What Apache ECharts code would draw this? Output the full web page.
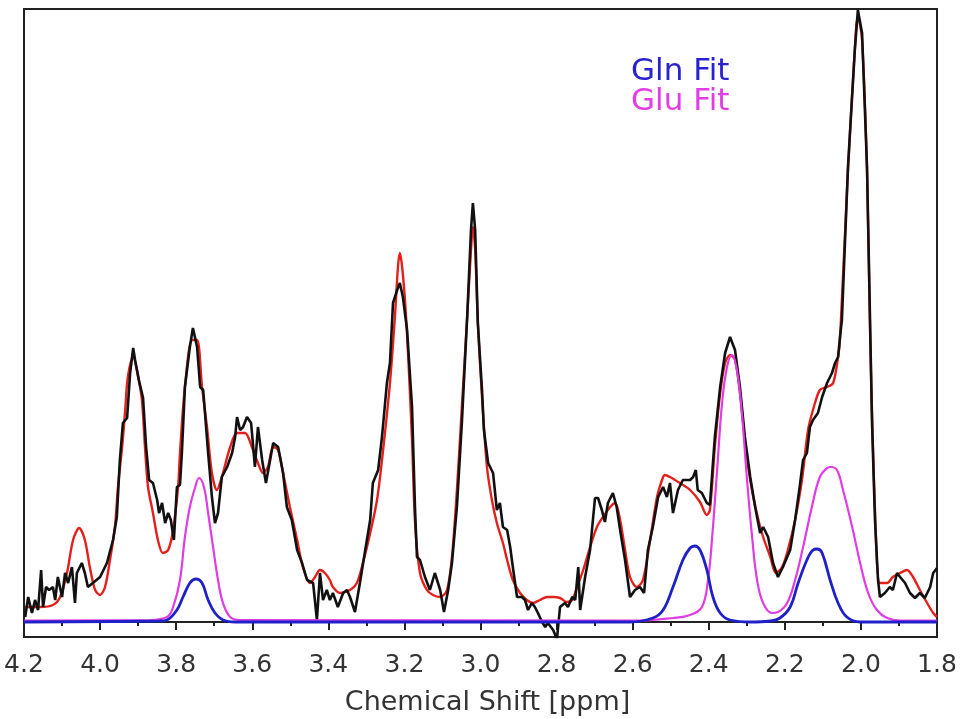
<!DOCTYPE html>
<html>
<head>
<meta charset="utf-8">
<script src="https://cdn.jsdelivr.net/npm/echarts@6/dist/echarts.min.js"></script>
<style>
  html, body { margin: 0; padding: 0; background: #fff; }
  #chart { width: 965px; height: 719px; }
</style>
</head>
<body>
<div id="chart"></div>
<script>
// measured spectrum (black)
const dataPpm = [4.197, 4.189, 4.179, 4.171, 4.163, 4.155, 4.150, 4.142, 4.134, 4.124, 4.118, 4.111, 4.100, 4.092, 4.084, 4.074, 4.066, 4.061, 4.048, 4.040, 4.032, 4.019, 4.000, 3.982, 3.966, 3.956, 3.948, 3.940, 3.929, 3.921, 3.913, 3.908, 3.898, 3.887, 3.879, 3.871, 3.861, 3.850, 3.845, 3.837, 3.829, 3.821, 3.814, 3.806, 3.798, 3.790, 3.785, 3.777, 3.764, 3.756, 3.745, 3.737, 3.729, 3.716, 3.706, 3.698, 3.690, 3.680, 3.666, 3.653, 3.645, 3.640, 3.632, 3.624, 3.614, 3.603, 3.593, 3.585, 3.574, 3.564, 3.553, 3.545, 3.532, 3.519, 3.509, 3.496, 3.482, 3.469, 3.456, 3.440, 3.430, 3.422, 3.414, 3.404, 3.396, 3.388, 3.375, 3.361, 3.351, 3.343, 3.330, 3.317, 3.303, 3.290, 3.283, 3.269, 3.259, 3.246, 3.238, 3.230, 3.219, 3.212, 3.204, 3.193, 3.180, 3.172, 3.167, 3.159, 3.146, 3.133, 3.120, 3.106, 3.096, 3.085, 3.075, 3.062, 3.049, 3.035, 3.025, 3.020, 3.014, 3.007, 2.996, 2.991, 2.980, 2.967, 2.957, 2.949, 2.941, 2.930, 2.922, 2.915, 2.904, 2.891, 2.883, 2.875, 2.865, 2.857, 2.849, 2.838, 2.830, 2.823, 2.809, 2.799, 2.791, 2.778, 2.770, 2.759, 2.751, 2.743, 2.738, 2.725, 2.712, 2.699, 2.691, 2.681, 2.673, 2.665, 2.652, 2.642, 2.633, 2.620, 2.607, 2.594, 2.581, 2.570, 2.560, 2.547, 2.533, 2.520, 2.510, 2.502, 2.494, 2.481, 2.468, 2.449, 2.441, 2.434, 2.429, 2.418, 2.405, 2.397, 2.384, 2.370, 2.357, 2.344, 2.331, 2.318, 2.305, 2.291, 2.278, 2.265, 2.257, 2.244, 2.231, 2.218, 2.205, 2.186, 2.173, 2.161, 2.152, 2.142, 2.134, 2.126, 2.113, 2.102, 2.089, 2.076, 2.068, 2.060, 2.055, 2.050, 2.034, 2.016, 2.008, 1.997, 1.984, 1.976, 1.971, 1.963, 1.955, 1.950, 1.937, 1.924, 1.916, 1.905, 1.897, 1.884, 1.871, 1.858, 1.845, 1.832, 1.818, 1.810, 1.800]
const dataInt = [5, 25, 9, 22, 12, 52, 15, 35, 32, 35, 22, 45, 25, 49, 39, 55, 19, 49, 59, 49, 35, 39, 45, 59, 82, 105, 162, 199, 204, 249, 274, 262, 242, 224, 175, 142, 139, 122, 109, 119, 99, 109, 102, 82, 135, 137, 169, 235, 275, 294, 275, 235, 232, 169, 125, 99, 109, 145, 155, 169, 185, 205, 192, 195, 205, 199, 155, 195, 162, 139, 162, 179, 175, 149, 115, 102, 72, 59, 42, 39, 2, 49, 22, 32, 22, 29, 15, 29, 32, 25, 10, 39, 72, 102, 139, 152, 185, 239, 259, 319, 332, 339, 325, 292, 215, 112, 65, 62, 45, 32, 49, 32, 10, 32, 59, 115, 199, 305, 392, 419, 392, 299, 232, 192, 159, 149, 112, 119, 95, 92, 75, 55, 25, 25, 22, 12, 19, 15, 9, 0, -5, -1, -8, -17, 15, 19, 15, 25, 22, 55, 12, 45, 72, 124, 124, 112, 100, 119, 129, 115, 92, 62, 25, 32, 35, 29, 72, 95, 125, 135, 125, 139, 109, 132, 142, 142, 145, 152, 132, 129, 119, 117, 185, 235, 269, 285, 272, 235, 185, 145, 115, 89, 95, 85, 59, 45, 55, 72, 102, 135, 162, 169, 195, 202, 209, 225, 239, 249, 259, 265, 285, 302, 455, 572, 612, 589, 455, 302, 202, 102, 42, 25, 29, 35, 32, 49, 45, 39, 29, 24, 29, 24, 35, 49, 54]

// total fit (red)
const fitPpm = [4.197, 4.158, 4.124, 4.105, 4.087, 4.071, 4.055, 4.040, 4.027, 4.013, 4.000, 3.987, 3.974, 3.961, 3.953, 3.942, 3.934, 3.927, 3.913, 3.900, 3.890, 3.882, 3.874, 3.861, 3.848, 3.835, 3.821, 3.808, 3.795, 3.790, 3.777, 3.758, 3.745, 3.732, 3.719, 3.706, 3.693, 3.680, 3.658, 3.640, 3.619, 3.601, 3.585, 3.572, 3.559, 3.545, 3.532, 3.519, 3.501, 3.482, 3.467, 3.448, 3.435, 3.422, 3.409, 3.396, 3.388, 3.369, 3.343, 3.325, 3.309, 3.290, 3.272, 3.256, 3.238, 3.225, 3.217, 3.212, 3.206, 3.198, 3.190, 3.180, 3.172, 3.159, 3.141, 3.125, 3.106, 3.088, 3.075, 3.062, 3.049, 3.035, 3.025, 3.020, 3.014, 3.007, 2.996, 2.983, 2.970, 2.957, 2.941, 2.930, 2.915, 2.896, 2.878, 2.862, 2.844, 2.825, 2.809, 2.791, 2.773, 2.759, 2.746, 2.730, 2.712, 2.694, 2.678, 2.659, 2.646, 2.633, 2.620, 2.607, 2.589, 2.573, 2.554, 2.536, 2.520, 2.515, 2.502, 2.476, 2.449, 2.423, 2.405, 2.397, 2.384, 2.370, 2.357, 2.344, 2.331, 2.318, 2.305, 2.291, 2.274, 2.257, 2.238, 2.224, 2.207, 2.192, 2.173, 2.155, 2.139, 2.126, 2.108, 2.089, 2.073, 2.060, 2.055, 2.034, 2.013, 2.008, 1.997, 1.984, 1.976, 1.963, 1.950, 1.931, 1.916, 1.897, 1.879, 1.863, 1.845, 1.826, 1.810, 1.800]
const fitInt = [15, 15, 17, 25, 49, 82, 94, 82, 55, 32, 27, 35, 62, 95, 135, 175, 212, 245, 265, 245, 222, 175, 135, 109, 82, 69, 72, 92, 135, 169, 235, 282, 282, 235, 195, 149, 132, 145, 175, 189, 189, 175, 159, 149, 155, 175, 172, 149, 115, 82, 55, 39, 45, 52, 49, 42, 35, 29, 32, 39, 59, 89, 122, 172, 239, 305, 355, 369, 355, 319, 265, 182, 99, 49, 32, 27, 25, 32, 65, 132, 215, 305, 372, 395, 372, 299, 225, 155, 122, 99, 79, 62, 42, 29, 22, 19, 22, 25, 25, 24, 20, 22, 35, 52, 75, 95, 105, 115, 119, 102, 72, 45, 35, 42, 82, 125, 145, 147, 145, 139, 132, 120, 107, 112, 175, 229, 259, 267, 262, 229, 182, 142, 109, 85, 65, 49, 55, 72, 102, 142, 192, 212, 232, 235, 239, 265, 282, 452, 592, 605, 582, 452, 292, 112, 39, 39, 45, 49, 52, 45, 32, 19, 9, 5]

// Gln component (blue)
const glnPpm = [4.200, 3.842, 3.824, 3.798, 3.782, 3.764, 3.748, 3.732, 3.716, 3.698, 3.677, 3.645, 2.607, 2.547, 2.520, 2.494, 2.468, 2.449, 2.437, 2.423, 2.405, 2.389, 2.370, 2.344, 2.291, 2.239, 2.213, 2.186, 2.165, 2.142, 2.126, 2.115, 2.102, 2.081, 2.060, 2.037, 2.002, 1.800]
const glnInt = [0, 1, 2, 12, 25, 39, 43, 39, 22, 9, 2, 0, 0, 4, 12, 35, 62, 74, 76, 72, 52, 25, 9, 2, 0, 1, 4, 15, 39, 62, 72, 73, 69, 42, 19, 5, 0, 0]

// Glu component (magenta)
const gluPpm = [4.200, 3.869, 3.824, 3.808, 3.790, 3.777, 3.764, 3.750, 3.740, 3.727, 3.716, 3.703, 3.690, 3.677, 3.658, 3.632, 2.581, 2.494, 2.449, 2.418, 2.402, 2.391, 2.378, 2.365, 2.352, 2.339, 2.326, 2.313, 2.300, 2.286, 2.273, 2.257, 2.234, 2.218, 2.194, 2.173, 2.152, 2.129, 2.108, 2.089, 2.079, 2.063, 2.047, 2.023, 2.002, 1.981, 1.958, 1.931, 1.897, 1.800]
const gluInt = [1.5, 2, 5, 15, 42, 85, 115, 135, 144, 135, 109, 75, 42, 19, 5, 2, 1.5, 4, 7, 15, 42, 85, 152, 219, 255, 267, 252, 209, 145, 85, 42, 19, 9, 10, 19, 42, 75, 115, 145, 154, 155, 152, 132, 95, 59, 29, 12, 4, 1.5, 1.5]

const xTicks = { min: 1.8, max: 4.2, step: 0.2 }

function zip(xs, ys) {
  return xs.map((x, i) => [x, ys[i]])
}

const chart = echarts.init(document.getElementById('chart'))
const font = 'DejaVu Sans'

chart.setOption({
  animation: false,
  backgroundColor: '#fff',
  grid: {
    left: 24, right: 28, top: 9, bottom: 82,
    containLabel: false,
    outerBoundsMode: 'none',
    show: true, borderColor: '#222', borderWidth: 2
  },
  xAxis: {
    type: 'value',
    inverse: true,
    min: xTicks.min,
    max: xTicks.max,
    interval: xTicks.step,
    name: 'Chemical Shift [ppm]',
    nameLocation: 'middle',
    nameGap: 52,
    nameTextStyle: { fontFamily: font, fontSize: 27, color: '#333', padding: [0, 0, 0, 14] },
    axisLine: { show: true, lineStyle: { color: '#222', width: 2 } },
    axisTick: { show: true, inside: false, length: 8, lineStyle: { color: '#222', width: 2 } },
    minorTick: { show: true, splitNumber: 2, length: 4, lineStyle: { color: '#222', width: 2 } },
    axisLabel: {
      fontFamily: font, fontSize: 25, color: '#333', margin: 16,
      formatter: v => v.toFixed(1)
    },
    splitLine: { show: false }
  },
  yAxis: {
    type: 'value',
    min: -15,
    max: 613,
    axisLine: { show: false },
    axisTick: { show: false },
    axisLabel: { show: false },
    splitLine: { show: false }
  },
  graphic: [
    { type: 'text', left: 631, top: 56, style: { text: 'Gln Fit', fill: '#2a22d0', font: '31px "DejaVu Sans"' } },
    { type: 'text', left: 631, top: 86, style: { text: 'Glu Fit', fill: '#e23ce6', font: '31px "DejaVu Sans"' } }
  ],
  series: [
    {
      name: 'Fit', type: 'line', data: zip(fitPpm, fitInt), symbol: 'none', smooth: 0.3,
      lineStyle: { color: '#e3201b', width: 2.4 }, silent: true
    },
    {
      name: 'Data', type: 'line', data: zip(dataPpm, dataInt), symbol: 'none',
      lineStyle: { color: '#111', width: 2.6 }, silent: true
    },
    {
      name: 'Glu Fit', type: 'line', data: zip(gluPpm, gluInt), symbol: 'none', smooth: 0.4,
      lineStyle: { color: '#e03ce4', width: 2.2 }, silent: true
    },
    {
      name: 'Gln Fit', type: 'line', data: zip(glnPpm, glnInt), symbol: 'none', smooth: 0.4,
      lineStyle: { color: '#2020c8', width: 2.8 }, silent: true
    }
  ]
})
</script>
</body>
</html>
